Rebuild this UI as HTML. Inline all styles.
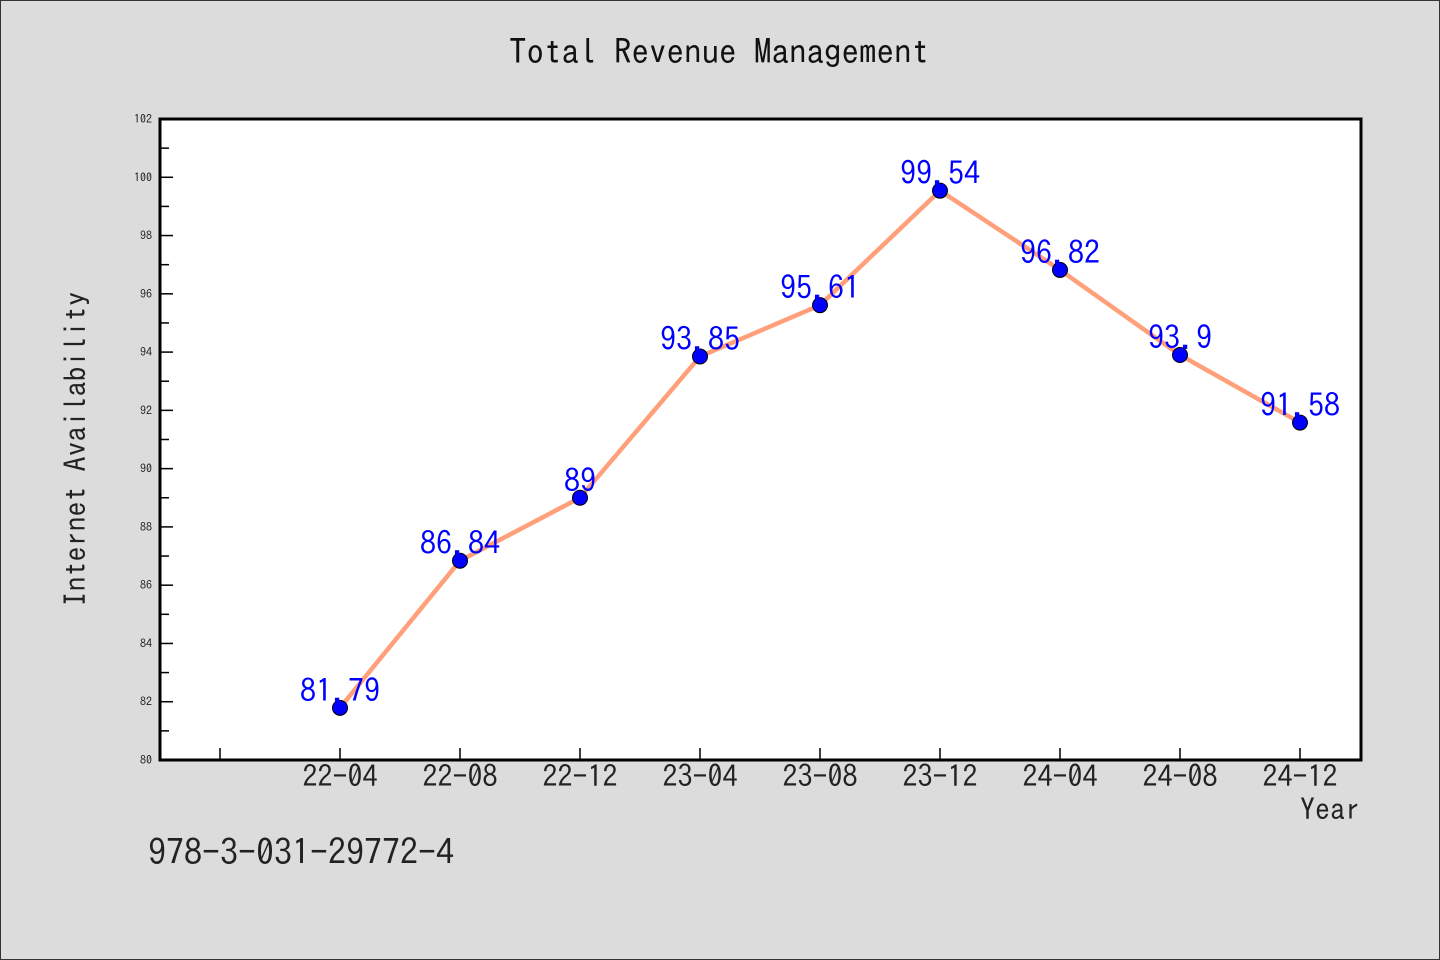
<!DOCTYPE html>
<html><head><meta charset="utf-8"><style>
body{margin:0;background:#dcdcdc;}
svg{display:block;font-family:"IPAGothic","WenQuanYi Zen Hei",monospace;}
</style></head><body>
<svg id="chart" width="1440" height="960" viewBox="0 0 1440 960">
<rect x="0.5" y="0.5" width="1439" height="959" fill="#dcdcdc" stroke="#333"/>
<text x="719" y="64" font-size="35" text-anchor="middle" fill="#111">Total Revenue Management</text>
<rect x="160" y="119" width="1201" height="641" fill="#fff"/>
<g id="ticks"></g>
<g id="series"></g>
<rect x="160" y="119" width="1201" height="641" fill="none" stroke="#000" stroke-width="3"/>
<text transform="translate(86,449) rotate(-90)" font-size="30" text-anchor="middle" fill="#222">Internet Availability</text>
<text x="1360" y="820" font-size="30" text-anchor="end" fill="#222">Year</text>
<text x="148" y="865" font-size="36" fill="#222">978-3-031-29772-4</text>
</svg>
<script>
const categories=["22-04","22-08","22-12","23-04","23-08","23-12","24-04","24-08","24-12"];
const values=[81.79,86.84,89,93.85,95.61,99.54,96.82,93.9,91.58];
const labels=["81.79","86.84","89","93.85","95.61","99.54","96.82","93.9","91.58"];
const yTicks=[80,82,84,86,88,90,92,94,96,98,100,102];
const NS="http://www.w3.org/2000/svg";
const yMin=80,yMax=102,plotTop=119,plotBot=760;
function y(v){return plotBot-(v-yMin)/(yMax-yMin)*(plotBot-plotTop);}
function x(i){return 340+i*120;}
function mk(t,a,p){const e=document.createElementNS(NS,t);for(const k in a)e.setAttribute(k,a[k]);p.appendChild(e);return e;}
const tg=document.getElementById('ticks'),sg=document.getElementById('series');
yTicks.forEach((v,i)=>{
 const l=mk('line',{x1:160,x2:173,y1:y(v),y2:y(v),stroke:'#000','stroke-width':1.5},tg);
 
 
 const t=mk('text',{x:152,y:y(v)+4,'font-size':12,'text-anchor':'end',fill:'#222'},tg);
 
 
 t.textContent=v;
 if(i<yTicks.length-1){const m=mk('line',{x1:160,x2:169,y1:y(v+1),y2:y(v+1),stroke:'#000','stroke-width':1.5},tg);
 
 }
});
for(let i=-1;i<categories.length;i++){
 const l=mk('line',{x1:x(i),x2:x(i),y1:plotBot,y2:plotBot-12,stroke:'#000','stroke-width':1.5},tg);
 
 
 if(i>=0){const t=mk('text',{x:x(i),y:787,'font-size':30,'text-anchor':'middle',fill:'#222'},tg);
 
 
 t.textContent=categories[i];}
}
const pl=mk('polyline',{points:values.map((v,i)=>x(i)+','+y(v)).join(' '),fill:'none',stroke:'#ffa07a','stroke-width':4.5},sg);


values.forEach((v,i)=>{
 const c=mk('circle',{cx:x(i),cy:y(v),r:7.5,fill:'#0000ff',stroke:'#000','stroke-width':1},sg);
 
 
});
values.forEach((v,i)=>{
 const t=mk('text',{x:x(i),y:y(v)-6,'font-size':32,'text-anchor':'middle',fill:'#0000ff'},sg);
 
 
 t.textContent=labels[i];
});
</script>
</body></html>
